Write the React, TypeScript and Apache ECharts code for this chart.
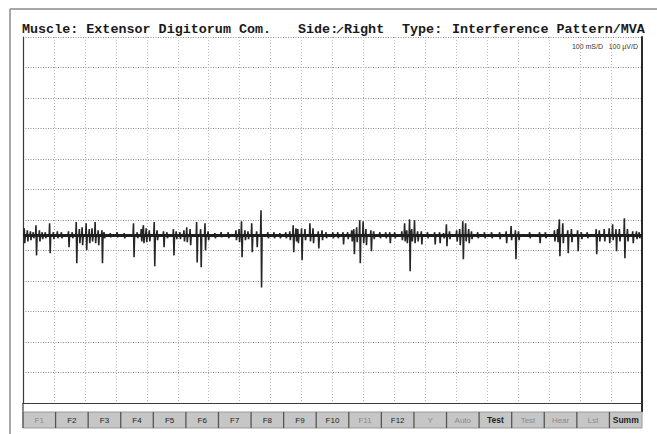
import React, { useEffect, useRef } from "react";
import * as echarts from "echarts";

// Time (ms) of each spike (100 ms per division, 20 divisions)
const spikeTimeMs = [
  4, 14, 24, 33, 42, 53, 62, 72, 86, 98, 111, 124, 147, 159, 172, 182, 191, 204, 214, 223,
  233, 243, 255, 262, 282, 304, 327, 357, 369, 382, 389, 398, 408, 424, 433, 454, 465, 486, 495, 507,
  520, 529, 540, 561, 574, 588, 598, 620, 640, 663, 688, 698, 706, 717, 727, 739, 755, 769, 791, 811,
  830, 849, 862, 873, 882, 888, 900, 911, 927, 937, 954, 966, 979, 1001, 1017, 1034, 1049, 1062, 1069, 1078,
  1088, 1099, 1108, 1124, 1133, 1153, 1172, 1185, 1201, 1224, 1233, 1240, 1249, 1256, 1265, 1275, 1287, 1307, 1330, 1346,
  1359, 1368, 1378, 1401, 1411, 1421, 1430, 1440, 1449, 1469, 1491, 1514, 1540, 1561, 1577, 1591, 1601, 1637, 1669, 1688,
  1717, 1727, 1733, 1744, 1760, 1772, 1792, 1804, 1823, 1852, 1862, 1878, 1894, 1905, 1916, 1927, 1943, 1953, 1970, 1982,
  1991,
];
// Positive peak of each spike (µV, 100 µV per division)
const spikeUpUv = [
  23, 16, 13, 10, 33, 16, 10, 10, 39, 10, 13, 10, 13, 10, 43, 20, 26, 39, 20, 23,
  43, 16, 16, 10, 7, 10, 7, 39, 10, 20, 33, 23, 16, 43, 16, 13, 10, 20, 13, 10,
  16, 26, 20, 43, 20, 39, 13, 7, 10, 10, 16, 20, 46, 16, 13, 39, 13, 82, 10, 10,
  7, 10, 13, 33, 23, 20, 23, 20, 39, 23, 13, 16, 10, 10, 10, 10, 10, 16, 20, 26,
  49, 46, 20, 16, 13, 10, 10, 10, 10, 13, 39, 16, 52, 20, 49, 13, 13, 10, 10, 10,
  7, 36, 13, 16, 20, 46, 39, 20, 13, 10, 10, 10, 10, 13, 30, 16, 13, 10, 10, 10,
  16, 20, 52, 39, 16, 20, 16, 10, 10, 20, 16, 20, 23, 36, 20, 20, 56, 20, 13, 13,
  10,
];
// Negative peak of each spike (µV, magnitude)
const spikeDownUv = [
  26, 20, 16, 10, 66, 20, 13, 10, 59, 13, 10, 10, 39, 10, 92, 26, 33, 49, 26, 20,
  26, 33, 92, 10, 7, 7, 10, 72, 10, 20, 26, 23, 20, 102, 16, 39, 10, 66, 13, 13,
  20, 23, 33, 89, 105, 49, 16, 10, 7, 10, 16, 23, 72, 16, 13, 56, 39, 171, 10, 10,
  10, 10, 16, 56, 20, 26, 82, 16, 20, 26, 43, 16, 10, 10, 10, 30, 13, 20, 62, 23,
  92, 26, 33, 52, 13, 10, 10, 26, 10, 16, 20, 26, 118, 20, 26, 20, 30, 10, 30, 26,
  10, 36, 13, 20, 33, 79, 20, 26, 13, 10, 10, 10, 13, 26, 16, 79, 16, 10, 26, 10,
  20, 23, 69, 26, 59, 23, 52, 13, 10, 62, 20, 20, 26, 16, 52, 20, 75, 20, 26, 13,
  10,
];

const buttonLabels = [
  "F1", "F2", "F3", "F4", "F5", "F6", "F7", "F8", "F9", "F10", "F11", "F12",
  "Y", "Auto", "Test", "Test", "Hear", "Lst", "Summ",
];
const buttonEnabled = [
  false, true, true, true, true, true, true, true, true, true, false, true,
  false, false, true, false, false, false, true,
];
const buttonBold = [
  false, false, false, false, false, false, false, false, false, false, false, false,
  false, false, true, false, false, false, true,
];

const titleParts = [
  { text: "Muscle: Extensor Digitorum Com.", x: 22 },
  { text: "Side:", x: 298 },
  { text: "Right", x: 344 },
  { text: "Type:", x: 402 },
  { text: "Interference Pattern/MVA", x: 452 },
];

export default function App() {
  const ref = useRef<HTMLDivElement>(null);

  useEffect(() => {
    if (!ref.current) return;
    const chart = echarts.init(ref.current, null, { renderer: "svg" });

    const trace: number[][] = [[0, 0]];
    for (let i = 0; i < spikeTimeMs.length; i++) {
      const t = spikeTimeMs[i];
      trace.push([t - 1.5, 0], [t, spikeUpUv[i]], [t + 1.8, -spikeDownUv[i]], [t + 3.5, 0]);
    }
    trace.push([2000, 0]);

    const gridLeft = 23;
    const gridRight = 642;
    const btnTop = 412;
    const btnH = 16;
    const btnW = (gridRight - gridLeft) / buttonLabels.length;

    const graphics: any[] = [
      { type: "line", shape: { x1: 10, y1: 9, x2: 657, y2: 9 }, style: { stroke: "#8a8a8a", lineWidth: 1.5 } },
      { type: "line", shape: { x1: 10, y1: 9, x2: 10, y2: 434 }, style: { stroke: "#8a8a8a", lineWidth: 1.5 } },
      { type: "line", shape: { x1: gridLeft, y1: 403, x2: gridLeft, y2: btnTop }, style: { stroke: "#3a3a3a", lineWidth: 1.2 } },
      { type: "line", shape: { x1: gridRight, y1: 403, x2: gridRight, y2: btnTop }, style: { stroke: "#2a2a2a", lineWidth: 2 } },
      // pen mark between "Side:" and "Right"
      { type: "line", shape: { x1: 337, y1: 33, x2: 343, y2: 27 }, style: { stroke: "#333", lineWidth: 1.2 } },
      ...titleParts.map((p) => ({
        type: "text",
        x: p.x,
        y: 29,
        style: {
          text: p.text,
          fill: "#1a1a1a",
          font: "bold 13.4px 'Liberation Mono', 'DejaVu Sans Mono', monospace",
          textAlign: "left",
          textVerticalAlign: "middle",
        },
      })),
      {
        type: "text",
        x: 603,
        y: 46,
        style: { text: "100 mS/D", fill: "#333", font: "7px 'Liberation Sans', Arial, sans-serif", textAlign: "right", textVerticalAlign: "middle" },
      },
      {
        type: "text",
        x: 638,
        y: 46,
        style: { text: "100 µV/D", fill: "#333", font: "7px 'Liberation Sans', Arial, sans-serif", textAlign: "right", textVerticalAlign: "middle" },
      },
      {
        type: "rect",
        shape: { x: gridLeft, y: btnTop, width: gridRight - gridLeft, height: btnH },
        style: { fill: "#c6c6c6", stroke: "#9a9a9a", lineWidth: 1 },
      },
      ...buttonLabels.map((_, i) => ({
        type: "line",
        shape: { x1: gridLeft + i * btnW, y1: btnTop, x2: gridLeft + i * btnW, y2: btnTop + btnH },
        style: { stroke: "#555", lineWidth: 1.3 },
      })),
      ...buttonLabels.map((lab, i) => ({
        type: "text",
        x: gridLeft + (i + 0.5) * btnW,
        y: btnTop + btnH / 2,
        style: {
          text: lab,
          fill: buttonEnabled[i] ? "#222" : "#8a8a8a",
          font: (buttonBold[i] ? "bold 8.5px" : "8px") + " 'Liberation Sans', Arial, sans-serif",
          textAlign: "center",
          textVerticalAlign: "middle",
        },
      })),
    ];

    chart.setOption({
      animation: false,
      backgroundColor: "#ffffff",
      grid: { left: gridLeft, right: 657 - gridRight, top: 37, bottom: 434 - 403, containLabel: false },
      xAxis: {
        type: "value",
        min: 0,
        max: 2000,
        interval: 100,
        position: "top",
        axisLine: { show: true, lineStyle: { color: "#3a3a3a", width: 1.2 } },
        axisTick: { show: false },
        axisLabel: { show: false },
        splitLine: { show: true, lineStyle: { color: "#b8b8b8", type: [1, 2], width: 1 } },
      },
      yAxis: [
        {
          type: "value",
          min: 0,
          max: 1200,
          interval: 100,
          position: "left",
          axisLine: { show: true, lineStyle: { color: "#3a3a3a", width: 1.2 } },
          axisTick: { show: false },
          axisLabel: { show: false },
          splitLine: { show: true, lineStyle: { color: "#8c8c8c", type: [1, 1.5], width: 1 } },
        },
        {
          type: "value",
          min: -550,
          max: 650,
          position: "right",
          axisLine: { show: true, lineStyle: { color: "#2a2a2a", width: 2 } },
          axisTick: { show: false },
          axisLabel: { show: false },
          splitLine: { show: false },
        },
      ],
      series: [
        {
          type: "line",
          yAxisIndex: 1,
          data: trace,
          showSymbol: false,
          symbol: "none",
          lineStyle: { color: "#262626", width: 1.6 },
          markLine: {
            silent: true,
            symbol: "none",
            label: { show: false },
            lineStyle: { color: "#1e1e1e", width: 2.8, type: "solid" },
            data: [{ yAxis: 0 }],
          },
        },
      ],
      graphic: graphics,
    });

    return () => chart.dispose();
  }, []);

  return (
    <div
      ref={ref}
      style={{ position: "fixed", left: 0, top: 0, width: 657, height: 434, background: "#fff" }}
    />
  );
}
